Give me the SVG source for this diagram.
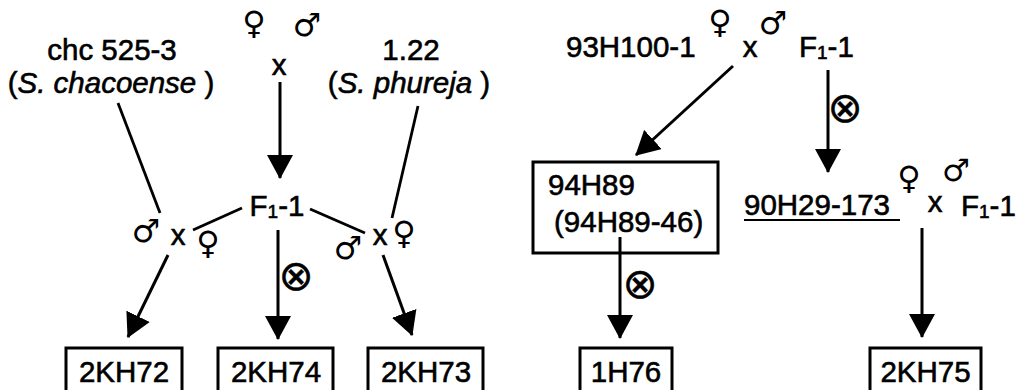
<svg xmlns="http://www.w3.org/2000/svg" width="1018" height="390" viewBox="0 0 1018 390">
  <style>
    .t { font-family: "Liberation Sans", Arial, sans-serif; font-size: 29.5px; fill: #000; stroke: #000; stroke-width: 0.6px; }
    .sub { font-size: 19px; }
    .it { font-style: italic; }
    .sym { font-family: "DejaVu Sans", sans-serif; font-size: 32px; font-weight: bold; fill: #000; }
    .self { font-family: "DejaVu Sans", sans-serif; font-size: 42px; fill: #000; stroke: #000; stroke-width: 0.4px; }
    .box { fill: none; stroke: #000; stroke-width: 3; }
    .ln { fill: none; stroke: #000; stroke-width: 2.8; }
    .arr { fill: none; stroke: #000; stroke-width: 3; marker-end: url(#head); }
  </style>
  <defs>
    <marker id="head" markerUnits="userSpaceOnUse" markerWidth="24" markerHeight="26" viewBox="0 0 24 26" refX="23" refY="13" orient="auto">
      <path d="M0,0 L24,13 L0,26 z" fill="#000"/>
    </marker>
  </defs>
  <rect width="1018" height="390" fill="#fff"/>

  <!-- connectors -->
  <g id="connectors">
    <line class="arr" x1="280" y1="82" x2="280" y2="178"/>
    <line class="ln" x1="118" y1="103" x2="160" y2="213"/>
    <line class="ln" x1="242" y1="208" x2="193" y2="230"/>
    <line class="arr" x1="168" y1="255" x2="128" y2="337"/>
    <line class="arr" x1="278" y1="230" x2="278" y2="339"/>
    <line class="ln" x1="310" y1="209" x2="365" y2="233"/>
    <line class="ln" x1="418" y1="106" x2="392" y2="218"/>
    <line class="arr" x1="383" y1="255" x2="412" y2="335"/>
    <line class="arr" x1="733" y1="66" x2="636" y2="155"/>
    <line class="arr" x1="828" y1="70" x2="828" y2="172"/>
    <line class="arr" x1="620" y1="237" x2="620" y2="338"/>
    <line class="arr" x1="922" y1="228" x2="922" y2="337"/>
    <!-- selfing marks -->
    <text class="self" x="296" y="275" text-anchor="middle" dominant-baseline="central">⊗</text>
    <text class="self" x="845" y="107" text-anchor="middle" dominant-baseline="central">⊗</text>
    <text class="self" x="640" y="283" text-anchor="middle" dominant-baseline="central">⊗</text>
  </g>

  <!-- parents, left cross -->
  <g id="n-chc">
    <text class="t" x="112" y="60" text-anchor="middle">chc 525-3</text>
    <text class="t" x="111" y="93" text-anchor="middle">(<tspan class="it">S. chacoense</tspan> )</text>
  </g>
  <g id="n-phureja">
    <text class="t" x="411" y="60" text-anchor="middle">1.22</text>
    <text class="t" x="409" y="93" text-anchor="middle">(<tspan class="it">S. phureja</tspan> )</text>
  </g>
  <g id="n-cross-top">
    <text class="sym" x="254" y="34" text-anchor="middle">♀</text>
    <text class="sym" x="307" y="36" text-anchor="middle">♂</text>
    <text class="t" x="279" y="75" text-anchor="middle">x</text>
  </g>
  <g id="n-f1">
    <text class="t" x="277" y="216" text-anchor="middle">F<tspan class="sub" dy="2">1</tspan><tspan dy="-2">-1</tspan></text>
  </g>
  <g id="n-cross-left">
    <text class="sym" x="146" y="242" text-anchor="middle">♂</text>
    <text class="t" x="178" y="245" text-anchor="middle">x</text>
    <text class="sym" x="208" y="254" text-anchor="middle">♀</text>
  </g>
  <g id="n-cross-right">
    <text class="sym" x="348" y="259" text-anchor="middle">♂</text>
    <text class="t" x="380" y="245" text-anchor="middle">x</text>
    <text class="sym" x="404" y="244" text-anchor="middle">♀</text>
  </g>
  <g id="n-2kh72">
    <rect class="box" x="66" y="348" width="116" height="50"/>
    <text class="t" x="124" y="382" text-anchor="middle">2KH72</text>
  </g>
  <g id="n-2kh74">
    <rect class="box" x="218" y="348" width="115" height="50"/>
    <text class="t" x="276" y="382" text-anchor="middle">2KH74</text>
  </g>
  <g id="n-2kh73">
    <rect class="box" x="368" y="348" width="115" height="50"/>
    <text class="t" x="426" y="382" text-anchor="middle">2KH73</text>
  </g>

  <!-- right-hand crosses -->
  <g id="n-93h100">
    <text class="t" x="566" y="57">93H100-1</text>
    <text class="sym" x="720" y="33" text-anchor="middle">♀</text>
    <text class="t" x="750" y="57" text-anchor="middle">x</text>
    <text class="sym" x="773" y="34" text-anchor="middle">♂</text>
    <text class="t" x="799" y="57">F<tspan class="sub" dy="2">1</tspan><tspan dy="-2">-1</tspan></text>
  </g>
  <g id="n-94h89">
    <rect class="box" x="533" y="162" width="185" height="91"/>
    <text class="t" x="548" y="195">94H89</text>
    <text class="t" x="554" y="232">(94H89-46)</text>
  </g>
  <g id="n-90h29">
    <text class="t" x="744" y="215">90H29-173</text>
    <line x1="744" y1="220" x2="900" y2="220" stroke="#000" stroke-width="2"/>
    <text class="sym" x="909" y="189" text-anchor="middle">♀</text>
    <text class="t" x="935" y="212" text-anchor="middle">x</text>
    <text class="sym" x="956" y="181" text-anchor="middle" style="font-size:31px">♂</text>
    <text class="t" x="961" y="216">F<tspan class="sub" dy="2">1</tspan><tspan dy="-2">-1</tspan></text>
  </g>
  <g id="n-1h76">
    <rect class="box" x="580" y="348" width="92" height="50"/>
    <text class="t" x="626" y="382" text-anchor="middle">1H76</text>
  </g>
  <g id="n-2kh75">
    <rect class="box" x="870" y="348" width="111" height="50"/>
    <text class="t" x="925.5" y="382" text-anchor="middle">2KH75</text>
  </g>
</svg>
